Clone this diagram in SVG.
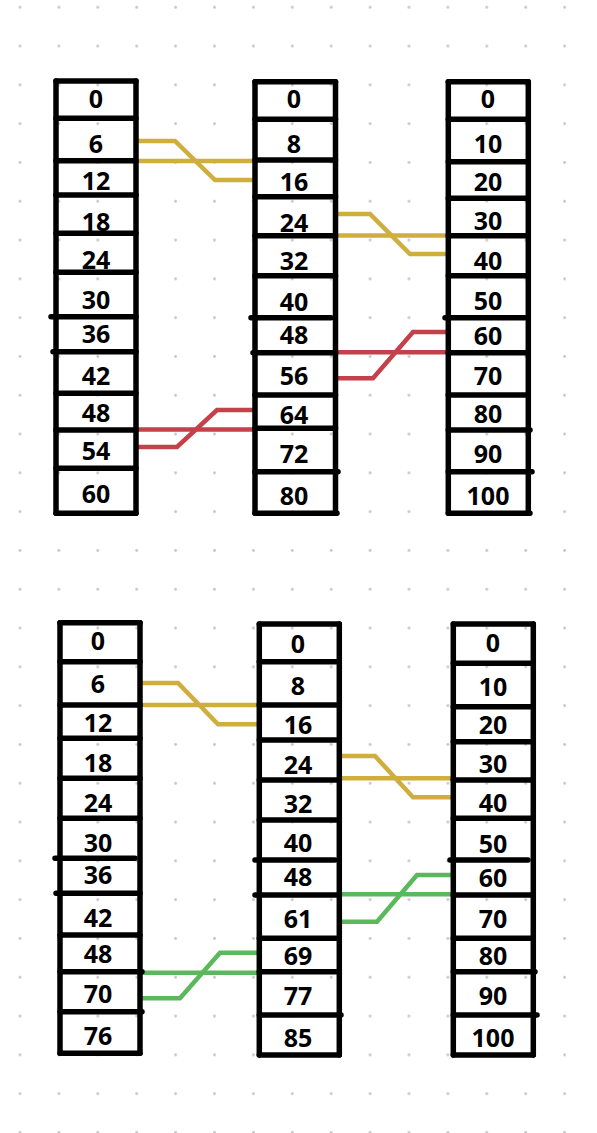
<svg xmlns="http://www.w3.org/2000/svg" width="597" height="1133" viewBox="0 0 597 1133">
<defs>
<pattern id="dots" x="0.55" y="-12.1" width="38.9" height="38.8" patternUnits="userSpaceOnUse">
<circle cx="19.45" cy="19.4" r="1.4" fill="#c4c4c4"/>
</pattern>
<style>
.col line, .col path{stroke:#000;stroke-width:5.5;stroke-linecap:round;fill:none}
.col text{font-family:"Noto Sans","DejaVu Sans",sans-serif;font-weight:700;font-size:25px;text-anchor:middle;fill:#000}
.cn{fill:none;stroke-width:4.5;stroke-linejoin:miter}
.y{stroke:#d0ae3e}
.r{stroke:#c4404a}
.g{stroke:#5cb85c}
</style>
</defs>
<rect width="597" height="1133" fill="#fff"/>
<rect width="597" height="1133" fill="url(#dots)"/>

<g id="connectors">
<path class="cn y" d="M136,141 H175 L215,180 H256"/>
<path class="cn y" d="M130,161 H256"/>
<path class="cn r" d="M136,429.5 H254"/>
<path class="cn r" d="M136,447 H177 L217,410 H254"/>
<path class="cn y" d="M337,214 H370 L410,254 H448"/>
<path class="cn y" d="M331,235.5 H448"/>
<path class="cn r" d="M333,352.3 H450"/>
<path class="cn r" d="M337,378.3 H373 L413,332 H449"/>
<path class="cn y" d="M141,683 H178 L218,724.3 H261"/>
<path class="cn y" d="M133,705 H261"/>
<path class="cn g" d="M141,972.7 H258"/>
<path class="cn g" d="M141,998.3 H180 L220,952.7 H257"/>
<path class="cn y" d="M340,756 H375 L413,797.3 H451"/>
<path class="cn y" d="M340,778.3 H451"/>
<path class="cn g" d="M337,894.3 H455"/>
<path class="cn g" d="M340,921.7 H377 L417,875 H452"/>
</g>

<g id="col-top-left" class="col">
<line x1="56" y1="81" x2="56" y2="513.3"/>
<line x1="136" y1="81" x2="136" y2="513.3"/>
<path d="M56,81H136M56,118.3H136M56,160.7H136M56,195H136M56,233.3H136M56,272.3H136M51,316.7H136M53,351.7H136M56,393.3H136M56,430H136M56,468.3H136M56,513.3H136"/>
<text x="96" y="108.3">0</text>
<text x="96" y="152.7">6</text>
<text x="96" y="190">12</text>
<text x="96" y="231">18</text>
<text x="96" y="269.3">24</text>
<text x="96" y="309.3">30</text>
<text x="96" y="342.7">36</text>
<text x="96" y="385">42</text>
<text x="96" y="421.7">48</text>
<text x="96" y="460">54</text>
<text x="96" y="503.3">60</text>
</g>

<g id="col-top-mid" class="col">
<line x1="255" y1="81.7" x2="255" y2="513.3"/>
<line x1="335.5" y1="81.7" x2="335.5" y2="513.3"/>
<path d="M255,81.7H335.5M255,119.3H335.5M255,160H335.5M255,196.7H335.5M255,235.7H335.5M255,275.7H335.5M251,317.7H331M253,352.7H335.5M255,395H335.5M255,428.3H335.5M255,471.7H338M255,513.3H337"/>
<text x="294" y="108.3">0</text>
<text x="294" y="153.3">8</text>
<text x="294" y="190.7">16</text>
<text x="294" y="231.7">24</text>
<text x="294" y="270">32</text>
<text x="294" y="310.7">40</text>
<text x="294" y="344">48</text>
<text x="294" y="385">56</text>
<text x="294" y="424">64</text>
<text x="294" y="463.3">72</text>
<text x="294" y="505">80</text>
</g>

<g id="col-top-right" class="col">
<line x1="448.3" y1="81.7" x2="448.3" y2="513.3"/>
<line x1="528.3" y1="81.7" x2="528.3" y2="513.3"/>
<path d="M448.3,81.7H528.3M448.3,119.3H528.3M448.3,161.7H528.3M448.3,198.3H528.3M448.3,235.7H528.3M448.3,275.7H528.3M445,317.7H525M448.3,352.7H528.3M448.3,395H528.3M448.3,430H530M448.3,471.7H532M448.3,513.3H530"/>
<text x="488" y="108.3">0</text>
<text x="488" y="153.3">10</text>
<text x="488" y="190.7">20</text>
<text x="488" y="230">30</text>
<text x="488" y="270">40</text>
<text x="488" y="310">50</text>
<text x="488" y="345">60</text>
<text x="488" y="385">70</text>
<text x="488" y="423.3">80</text>
<text x="488" y="463.3">90</text>
<text x="488" y="505">100</text>
</g>

<g id="col-bottom-left" class="col">
<line x1="60" y1="622.7" x2="60" y2="1053.3"/>
<line x1="140" y1="622.7" x2="140" y2="1053.3"/>
<path d="M60,622.7H140M60,661.7H140M60,705H140M60,738.3H140M60,778.3H140M60,818.3H140M55,858.3H135M56,893.3H140M60,935H140M60,971.7H142M60,1011.7H142M60,1053.3H140"/>
<text x="98" y="650">0</text>
<text x="98" y="693.3">6</text>
<text x="98" y="731.7">12</text>
<text x="98" y="771.7">18</text>
<text x="98" y="811.7">24</text>
<text x="98" y="851.7">30</text>
<text x="98" y="884">36</text>
<text x="98" y="926.7">42</text>
<text x="98" y="963.3">48</text>
<text x="98" y="1003.3">70</text>
<text x="98" y="1045">76</text>
</g>

<g id="col-bottom-mid" class="col">
<line x1="259.3" y1="624" x2="259.3" y2="1055"/>
<line x1="339.3" y1="624" x2="339.3" y2="1055"/>
<path d="M259.3,624H339.3M259.3,661.7H339.3M259.3,705H339.3M259.3,740H339.3M259.3,780H339.3M259.3,820H339.3M255,860H335M255,895H339.3M259.3,938.3H339.3M259.3,971.7H339.3M259.3,1015H341M259.3,1055H339.3"/>
<text x="298" y="652.7">0</text>
<text x="298" y="695">8</text>
<text x="298" y="734">16</text>
<text x="298" y="774">24</text>
<text x="298" y="812.7">32</text>
<text x="298" y="851.7">40</text>
<text x="298" y="886">48</text>
<text x="298" y="928.3">61</text>
<text x="298" y="965">69</text>
<text x="298" y="1005">77</text>
<text x="298" y="1046.7">85</text>
</g>

<g id="col-bottom-right" class="col">
<line x1="453.3" y1="624" x2="453.3" y2="1055"/>
<line x1="533.3" y1="624" x2="533.3" y2="1055"/>
<path d="M453.3,624H533.3M453.3,663.3H533.3M453.3,706.7H533.3M453.3,741.7H533.3M453.3,780H533.3M453.3,818.3H533.3M450,860H528M453.3,895H533.3M453.3,938.3H533.3M453.3,971.7H535M453.3,1015H537M453.3,1055H533.3"/>
<text x="493" y="651.7">0</text>
<text x="493" y="696">10</text>
<text x="493" y="734">20</text>
<text x="493" y="773.3">30</text>
<text x="493" y="811.7">40</text>
<text x="493" y="852.7">50</text>
<text x="493" y="886.7">60</text>
<text x="493" y="928.3">70</text>
<text x="493" y="965">80</text>
<text x="493" y="1005">90</text>
<text x="493" y="1046.7">100</text>
</g>
</svg>
